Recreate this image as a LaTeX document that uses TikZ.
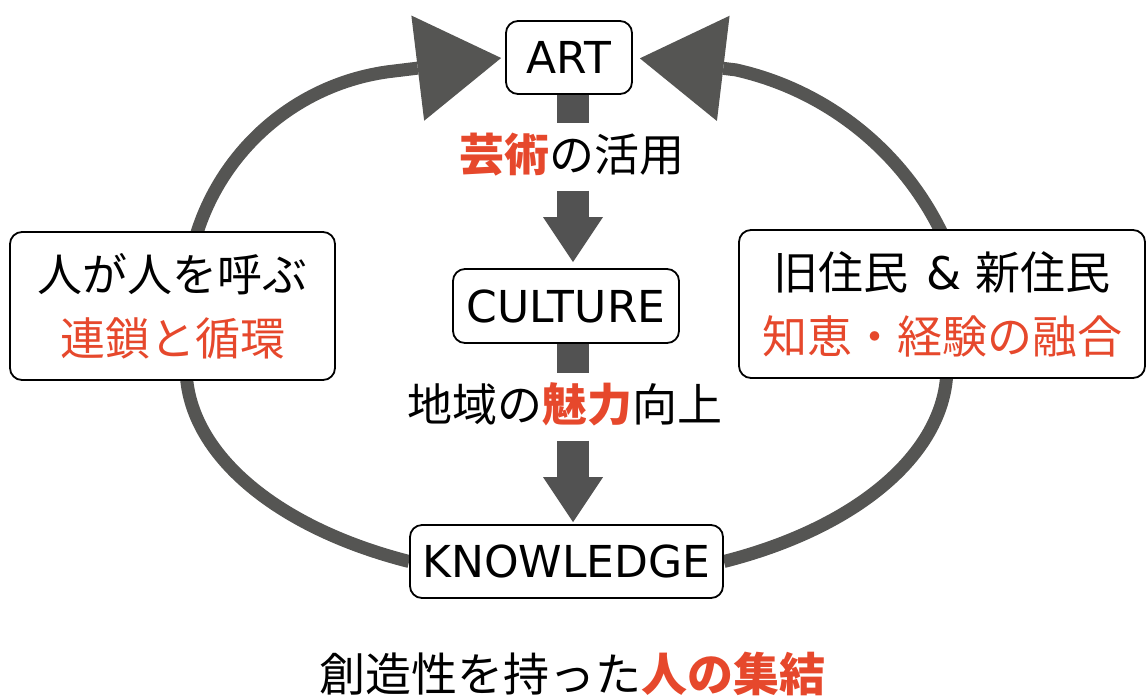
\documentclass[tikz,border=0pt]{standalone}
\usepackage{fontspec}
\setmainfont{Noto Sans CJK JP}
\newfontfamily\latinfont{DejaVu Sans}
\usetikzlibrary{arrows.meta}
\definecolor{mred}{RGB}{230,72,44}
\definecolor{loopgray}{RGB}{85,85,83}
\definecolor{fatgray}{RGB}{82,82,82}
\pgfdeclarelayer{bg}
\pgfsetlayers{bg,main}
\begin{document}
\begin{tikzpicture}[x=1pt,y=-1pt,
  box/.style={draw=black, line width=1.8pt, rounded corners=12pt, fill=white, inner sep=0pt,
              font=\fontsize{45}{64}\selectfont, align=center},
  keybox/.style={box, font=\latinfont\fontsize{44}{50}\selectfont},
  lbl/.style={font=\fontsize{45}{50}\selectfont, inner xsep=0pt, inner ysep=13pt,
              text height=35pt, text depth=6pt},
  loopline/.style={draw=loopgray, line width=13pt,
              -{Triangle[length=84pt 0 0, width=106pt 0 0, line width=0pt 0 0]}},
  fat/.style={draw=fatgray, line width=32pt},
  fathead/.style={fat, -{Triangle[length=45pt 0 0, width=60pt 0 0, line width=0pt 0 0]}}
]
\useasboundingbox (0,0) rectangle (1147,697);

% central chain
\node[keybox, minimum width=126pt, minimum height=73pt] (ART) at (569,57.5) {ART};
\node[keybox, minimum width=226pt, minimum height=74pt] (CULT) at (566,306) {CULTURE};
\node[keybox, minimum width=313pt, minimum height=73pt] (KNOW) at (566.5,561.5) {KNOWLEDGE};

\node[lbl] (lbl1) at (572,157) {\textcolor{mred}{\bfseries 芸術}の活用};
\node[lbl] (lbl2) at (565,407) {地域の\textcolor{mred}{\bfseries 魅力}向上};

% side boxes
\node[box, minimum width=325pt, minimum height=148pt] (LEFT) at (172.5,306)
  {人が人を呼ぶ\\\textcolor{mred}{連鎖と循環}};
\node[box, minimum width=406pt, minimum height=148pt] (RIGHT) at (942,304)
  {旧住民\hspace{0.4em}{\latinfont\&}\hspace{0.3em}新住民\\\textcolor{mred}{知恵・経験の融合}};

% bottom caption
\node[font=\fontsize{46}{50}\selectfont, inner sep=0pt] (CAP) at (572,674)
  {創造性を持った\textcolor{mred}{\bfseries 人の集結}};

\coordinate (axis) at (573,0);

\begin{pgfonlayer}{bg}
  % loop
  \draw[loopline, shorten >=4pt] (KNOW.west)
     arc[start angle=114.4, end angle=180, x radius=380, y radius=213]
     -- ++(0,-64)
     arc[start angle=180, end angle=262, radius=234]
     -- (ART.west);
  \draw[loopline, shorten >=7pt] (KNOW.east)
     arc[start angle=65.6, end angle=0, x radius=380, y radius=213]
     -- ++(-4,-132)
     arc[start angle=334.7, end angle=282.6, radius=302]
     -- (ART.east);
  % fat down arrows
  \draw[fat] (axis |- ART.south) -- (axis |- lbl1.north);
  \draw[fathead, shorten >=6pt] (axis |- lbl1.south) -- (axis |- CULT.north);
  \draw[fat] (axis |- CULT.south) -- (axis |- lbl2.north);
  \draw[fathead, shorten >=2pt] (axis |- lbl2.south) -- (axis |- KNOW.north);
\end{pgfonlayer}
\end{tikzpicture}
\end{document}
